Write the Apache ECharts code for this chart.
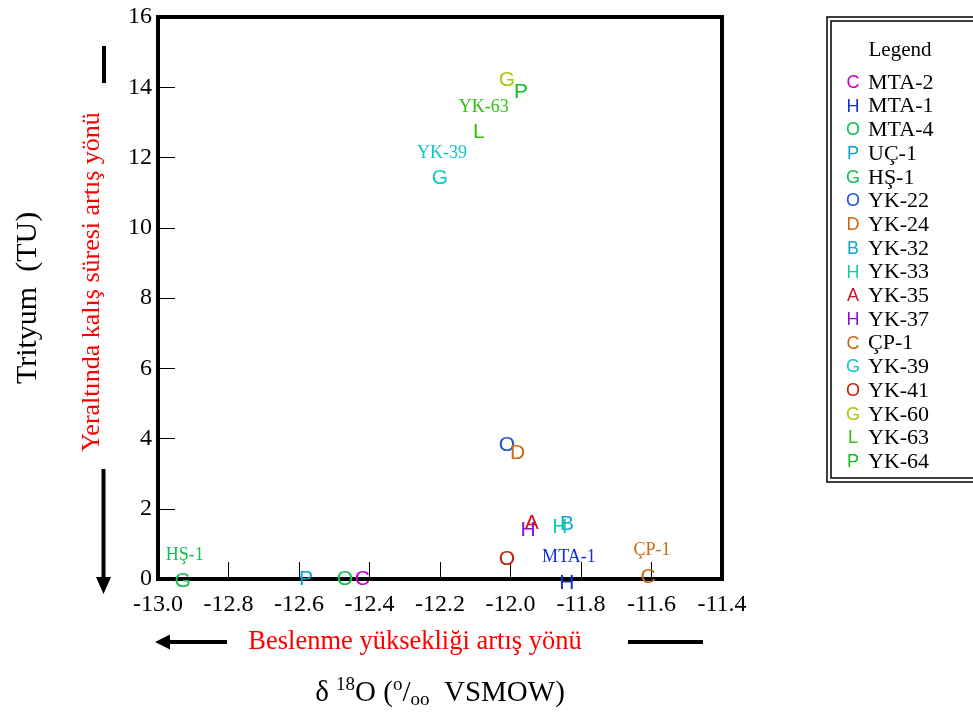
<!DOCTYPE html>
<html>
<head>
<meta charset="utf-8">
<script src="https://cdn.jsdelivr.net/npm/echarts@6/dist/echarts.min.js"></script>
<style>
  html, body { margin: 0; padding: 0; background: #fff; }
  #chart { width: 973px; height: 715px; }
</style>
</head>
<body>
<div id="chart"></div>
<script>
// sample points (letter = marker used in the original plot)
const samples = ['MTA-2', 'MTA-1', 'MTA-4', 'UÇ-1', 'HŞ-1', 'YK-22', 'YK-24', 'YK-32', 'YK-33',
  'YK-35', 'YK-37', 'ÇP-1', 'YK-39', 'YK-41', 'YK-60', 'YK-63', 'YK-64'];
const letters = ['C', 'H', 'O', 'P', 'G', 'O', 'D', 'B', 'H', 'A', 'H', 'C', 'G', 'O', 'G', 'L', 'P'];
const d18O = [-12.42, -11.84, -12.47, -12.58, -12.93, -12.01, -11.98, -11.84, -11.86,
  -11.94, -11.95, -11.61, -12.2, -12.01, -12.01, -12.09, -11.97];
const tritium = [0, -0.11, 0, 0, -0.05, 3.81, 3.58, 1.56, 1.48,
  1.59, 1.39, 0.06, 11.4, 0.57, 14.21, 12.73, 13.87];
// samples that get a name tag above the marker
const tagged = ['HŞ-1', 'YK-39', 'YK-63', 'MTA-1', 'ÇP-1'];

const colors = ['#c000c8', '#1030d0', '#10c050', '#10a0d8', '#10c050', '#1858d0', '#d06810', '#10a8c8', '#10d0a0',
  '#d01020', '#9010d0', '#c86810', '#10c8c8', '#c82010', '#a8c810', '#30c010', '#10c020'];
// pixel offsets of the tags (from the point, clamped to the axis)
const tagOffsets = { 'HŞ-1': [2, -24], 'YK-39': [2, -25], 'YK-63': [5, -25], 'MTA-1': [2, -22], 'ÇP-1': [4, -27] };

const serif = 'Liberation Serif';
const sans = 'Liberation Sans';

const chart = echarts.init(document.getElementById('chart'), null, { renderer: 'canvas' });

const rich = { n: { fontFamily: serif, fontSize: 22, color: '#000', lineHeight: 20 } };
colors.forEach((c, i) => {
  rich['s' + i] = { fontFamily: sans, fontSize: 18, color: c, width: 30, align: 'center', lineHeight: 20 };
});

const series = samples.map((name, i) => {
  const s = {
    name: name,
    type: 'scatter',
    clip: false,
    symbol: 'circle',
    symbolSize: 18,
    itemStyle: { color: 'rgba(0,0,0,0)', opacity: 1 },
    label: {
      show: true,
      position: 'inside',
      formatter: letters[i],
      color: colors[i],
      fontFamily: sans,
      fontSize: 21,
      textBorderWidth: 0,
    },
    emphasis: { disabled: true },
    data: [[d18O[i], tritium[i]]],
  };
  if (tagged.includes(name)) {
    s.markPoint = {
      symbol: 'circle',
      symbolSize: 0,
      silent: true,
      label: {
        show: true,
        position: 'inside',
        offset: tagOffsets[name],
        formatter: name,
        color: colors[i],
        fontFamily: serif,
        fontSize: 18,
        textBorderWidth: 0,
      },
      data: [{ coord: [d18O[i], Math.max(0, tritium[i])] }],
    };
  }
  return s;
});

const option = {
  backgroundColor: '#ffffff',
  animation: false,
  grid: {
    left: 158, right: 251, top: 17, bottom: 135,
    show: true, borderColor: '#000', borderWidth: 4,
  },
  xAxis: {
    type: 'value',
    min: -13, max: -11.4, interval: 0.2,
    axisLine: { show: false },
    axisTick: { show: true, inside: true, length: 17, lineStyle: { color: '#000', width: 1 } },
    splitLine: { show: false },
    axisLabel: {
      margin: 14, color: '#000', fontFamily: serif, fontSize: 24,
      formatter: (v) => v.toFixed(1),
    },
    name: '{a|δ }{sup|18}{a|O (}{sup|o}{a|/}{sub|oo}{a|  VSMOW)}',
    nameLocation: 'middle',
    nameGap: 97,
    nameTextStyle: {
      rich: {
        a: { fontFamily: serif, fontSize: 29, color: '#000', lineHeight: 34 },
        sup: { fontFamily: serif, fontSize: 19, color: '#000', verticalAlign: 'top', lineHeight: 34, padding: [0, 0, 12, 0] },
        sub: { fontFamily: serif, fontSize: 19, color: '#000', verticalAlign: 'bottom', lineHeight: 34, padding: [8, 0, 0, 0] },
      },
    },
  },
  yAxis: {
    type: 'value',
    min: 0, max: 16, interval: 2,
    axisLine: { show: false },
    axisTick: { show: true, inside: true, length: 17, lineStyle: { color: '#000', width: 1 } },
    splitLine: { show: false },
    axisLabel: { margin: 6, color: '#000', fontFamily: serif, fontSize: 24 },
    name: 'Trityum  (TU)',
    nameLocation: 'middle',
    nameRotate: 90,
    nameGap: 115,
    nameTextStyle: { fontFamily: serif, fontSize: 30, color: '#000' },
  },
  legend: {
    orient: 'vertical',
    left: 833,
    top: 72,
    padding: 0,
    itemWidth: 0,
    itemHeight: 0,
    itemGap: 1.7,
    selectedMode: false,
    formatter: (name) => {
      const i = samples.indexOf(name);
      return '{s' + i + '|' + letters[i] + '}{n|' + name + '}';
    },
    textStyle: { rich: rich },
  },
  graphic: [
    // legend frame (double line)
    { type: 'rect', shape: { x: 827, y: 17, width: 160, height: 465 }, style: { fill: 'none', stroke: '#000', lineWidth: 1.5 } },
    { type: 'rect', shape: { x: 831, y: 21, width: 160, height: 457 }, style: { fill: 'none', stroke: '#000', lineWidth: 1.5 } },
    { type: 'text', x: 900, y: 50, style: { text: 'Legend', font: '21px "Liberation Serif"', fill: '#000', align: 'center', verticalAlign: 'middle' } },
    // red direction notes
    { type: 'text', x: 92, y: 282, rotation: Math.PI / 2,
      style: { text: 'Yeraltında kalış süresi artış yönü', font: '26px "Liberation Serif"', fill: '#ff0000', align: 'center', verticalAlign: 'middle' } },
    { type: 'text', x: 415, y: 642,
      style: { text: 'Beslenme yüksekliği artış yönü', font: '26.5px "Liberation Serif"', fill: '#ff0000', align: 'center', verticalAlign: 'middle' } },
    // arrows
    { type: 'line', shape: { x1: 104, y1: 46, x2: 104, y2: 83 }, style: { stroke: '#000', lineWidth: 4 } },
    { type: 'line', shape: { x1: 103.5, y1: 469, x2: 103.5, y2: 580 }, style: { stroke: '#000', lineWidth: 4 } },
    { type: 'polygon', shape: { points: [[96, 577], [111, 577], [103.5, 594]] }, style: { fill: '#000' } },
    { type: 'line', shape: { x1: 168, y1: 642, x2: 227, y2: 642 }, style: { stroke: '#000', lineWidth: 4 } },
    { type: 'polygon', shape: { points: [[155, 642], [170, 634.5], [170, 649.5]] }, style: { fill: '#000' } },
    { type: 'line', shape: { x1: 628, y1: 642, x2: 703, y2: 642 }, style: { stroke: '#000', lineWidth: 4 } },
  ],
  series: series,
};

chart.setOption(option);
</script>
</body>
</html>
